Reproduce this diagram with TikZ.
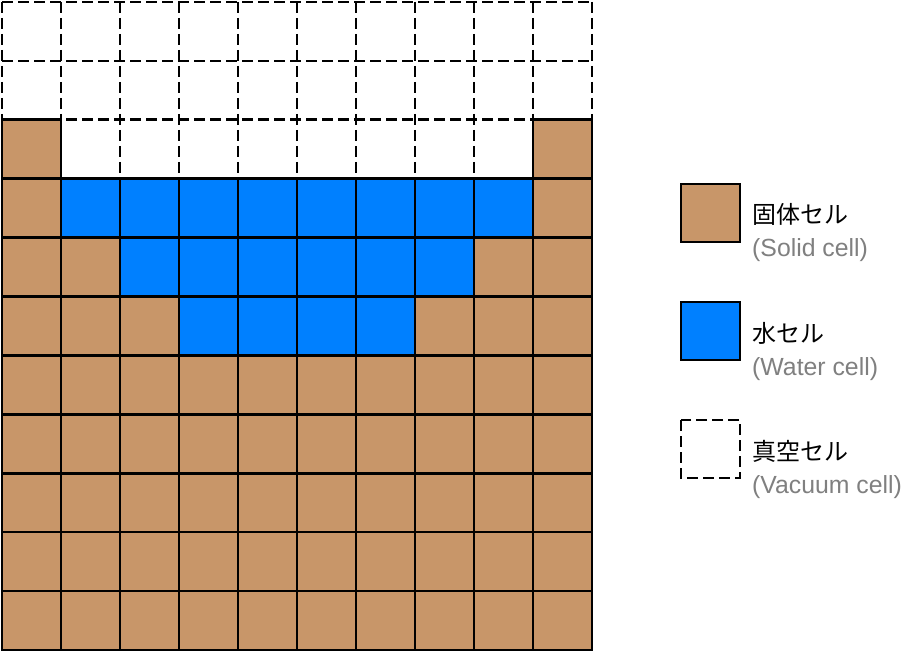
\documentclass[tikz,border=0pt]{standalone}
\usepackage{fontspec}
\setmainfont{Liberation Sans}
\newfontfamily\cjkfont{Noto Sans CJK JP}
\definecolor{solidc}{HTML}{C89669}
\definecolor{waterc}{HTML}{0080FF}
\definecolor{captc}{HTML}{808080}
\begin{document}
\begin{tikzpicture}[x=1pt,y=-1pt,
  cellline/.style={line width=2.6pt,draw=black,line join=miter},
  vacline/.style={line width=2.6pt,draw=black,dash pattern=on 11pt off 5pt},
  solidcell/.style={cellline,fill=solidc},
  watercell/.style={cellline,fill=waterc},
  jplabel/.style={anchor=base west,inner sep=0pt,font=\cjkfont\fontsize{24}{28}\selectfont},
  enlabel/.style={anchor=base west,inner sep=0pt,text=captc,font=\fontsize{24.8}{28}\selectfont}]
\useasboundingbox[fill=white] (0,0) rectangle (904,652);
\def\dx{59}\def\dy{58.9}
% vacuum (dashed) grid lines
\foreach \r in {0,1,2}{
  \draw[vacline] (2,{2+\r*\dy}) -- (592,{2+\r*\dy});
}
\foreach \c in {0,10}{
  \draw[vacline] ({2+\c*\dx},2) -- ({2+\c*\dx},{2+2*\dy});
}
\foreach \c in {1,...,9}{
  \draw[vacline] ({2+\c*\dx},2) -- ({2+\c*\dx},{2+3*\dy});
}
% solid cells
\foreach \r/\a/\b in {2/0/0,2/9/9,3/0/0,3/9/9,4/0/1,4/8/9,5/0/2,5/7/9,6/0/9,7/0/9,8/0/9,9/0/9,10/0/9}{
  \foreach \c in {\a,...,\b}{
    \filldraw[solidcell] ({2+\c*\dx},{2+\r*\dy}) rectangle ({2+(\c+1)*\dx},{2+(\r+1)*\dy});
  }
}
% water cells
\foreach \r/\a/\b in {3/1/8,4/2/7,5/3/6}{
  \foreach \c in {\a,...,\b}{
    \filldraw[watercell] ({2+\c*\dx},{2+\r*\dy}) rectangle ({2+(\c+1)*\dx},{2+(\r+1)*\dy});
  }
}
% legend
\filldraw[solidcell] (681,184) rectangle (740,242);
\filldraw[watercell] (681,302) rectangle (740,360);
\draw[vacline] (681,420) rectangle (740,478);
\node[jplabel] (l1) at (752,224) {固体セル};
\node[enlabel] (e1) at (752,257) {(Solid cell)};
\node[jplabel] (l2) at (752,342) {水セル};
\node[enlabel] (e2) at (752,375) {(Water cell)};
\node[jplabel] (l3) at (752,460) {真空セル};
\node[enlabel] (e3) at (752,493) {(Vacuum cell)};
\end{tikzpicture}
\end{document}
